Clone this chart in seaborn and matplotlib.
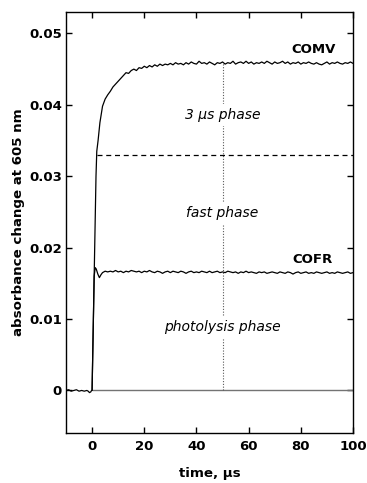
import matplotlib
matplotlib.use("Agg")
import matplotlib.pyplot as plt
import seaborn as sns
import pandas as pd

sns.set_theme(style="ticks")
plt.rcParams['font.family'] = ['DejaVu Sans']
plt.rcParams['text.color'] = 'black'
plt.rcParams['axes.labelcolor'] = 'black'

# ---- data ----
baseline_t = [-10, -9, -8, -7, -6, -5, -4, -3, -2, -1.5, -1, -0.5, -0.2]
baseline_y = [0.0000, 0.0001, -0.0001, 0.0000, 0.0001, -0.0001, 0.0000, -0.0001,
              0.0000, -0.0001, -0.0003, -0.0002, 0.0000]

comv_t = [0.0, 0.5, 1.0, 1.5, 1.8, 2.3, 3.0, 4.0, 5.0, 6.0, 7.0, 8.0, 9.0, 10, 11, 12,
          13, 14, 15, 16, 17, 18, 19] + list(range(20, 101))
comv_y = [0.0000, 0.0100, 0.0200, 0.0300, 0.0335, 0.0350, 0.0375, 0.0398, 0.0408,
          0.0414, 0.0419, 0.0425, 0.0429, 0.0433, 0.0437, 0.0441, 0.0445, 0.0444,
          0.0448, 0.0450, 0.0448, 0.0452, 0.0451,
          0.0454, 0.0452, 0.0455, 0.0453, 0.0456, 0.0454, 0.0457, 0.0455, 0.0457, 0.0456,
          0.0458, 0.0456, 0.0459, 0.0457, 0.0458, 0.0456, 0.0459, 0.0457, 0.0460, 0.0458,
          0.0457, 0.0461, 0.0458, 0.0459, 0.0457, 0.0460, 0.0458, 0.0456, 0.0459, 0.0458,
          0.0460, 0.0457, 0.0459, 0.0458, 0.0461, 0.0457, 0.0459, 0.0460, 0.0458, 0.0461,
          0.0458, 0.0460, 0.0457, 0.0459, 0.0458, 0.0460, 0.0458, 0.0461, 0.0459, 0.0457,
          0.0460, 0.0458, 0.0459, 0.0461, 0.0458, 0.0460, 0.0457, 0.0459, 0.0458, 0.0460,
          0.0457, 0.0459, 0.0458, 0.0460, 0.0458, 0.0457, 0.0459, 0.0457, 0.0456, 0.0458,
          0.0460, 0.0457, 0.0459, 0.0458, 0.0460, 0.0458, 0.0457, 0.0459, 0.0458, 0.0460,
          0.0458]

cofr_t = [0.0, 0.4, 0.8, 1.2, 1.6, 2.2, 2.8, 3.4] + list(range(4, 101))
cofr_y = [0.0000, 0.0080, 0.0160, 0.0172, 0.0170, 0.0163, 0.0158, 0.0162,
          0.0165, 0.0167, 0.0166, 0.0167, 0.0166, 0.0168, 0.0166, 0.0167, 0.0165, 0.0167,
          0.0166, 0.0168, 0.0167, 0.0166, 0.0167, 0.0165, 0.0167, 0.0166, 0.0168, 0.0166,
          0.0165, 0.0167, 0.0166, 0.0164, 0.0166, 0.0167, 0.0165, 0.0167, 0.0166, 0.0165,
          0.0167, 0.0166, 0.0164, 0.0166, 0.0167, 0.0165, 0.0166, 0.0165, 0.0167, 0.0166,
          0.0165, 0.0167, 0.0165, 0.0166, 0.0167, 0.0165, 0.0166, 0.0165, 0.0167, 0.0166,
          0.0165, 0.0166, 0.0164, 0.0166, 0.0165, 0.0167, 0.0165, 0.0166, 0.0165, 0.0164,
          0.0166, 0.0165, 0.0166, 0.0164, 0.0165, 0.0166, 0.0165, 0.0164, 0.0166, 0.0165,
          0.0164, 0.0166, 0.0165, 0.0163, 0.0165, 0.0166, 0.0164, 0.0165, 0.0166, 0.0164,
          0.0165, 0.0164, 0.0166, 0.0165, 0.0164, 0.0165, 0.0166, 0.0164, 0.0165, 0.0164,
          0.0166, 0.0165, 0.0164, 0.0165, 0.0166, 0.0164, 0.0165]

fast_level = 0.033
fast_t = [1.7, 100]
divider_t = 50
divider_y = [0.0, 0.0458]

x_ticks = [0, 20, 40, 60, 80, 100]
y_ticks = [0, 0.01, 0.02, 0.03, 0.04, 0.05]
y_ticklabels = ['0', '0.01', '0.02', '0.03', '0.04', '0.05']

phase_labels = ['3 \u03bcs phase', 'fast phase', 'photolysis phase']
phase_y = [0.0386, 0.0248, 0.0089]
trace_labels = ['COMV', 'COFR']
trace_label_x = [85, 84.5]
trace_label_y = [0.0477, 0.0183]

# ---- figure ----
fig = plt.figure(figsize=(3.67, 4.83), dpi=100)
ax = fig.add_axes([0.1798, 0.1029, 0.9619 - 0.1798, 0.9752 - 0.1029])

# zero line and guides
ax.hlines(0, 0, 100, color='0.45', lw=1.0, zorder=1)
ax.plot(fast_t, [fast_level, fast_level], color='black', lw=0.9,
        dashes=(4, 3), zorder=2)
ax.plot([divider_t, divider_t], divider_y, color='0.35', lw=0.8,
        linestyle=(0, (1, 1.5)), zorder=1)

base = pd.DataFrame({'t': baseline_t, 'y': baseline_y})
comv = pd.DataFrame({'t': comv_t, 'y': comv_y})
cofr = pd.DataFrame({'t': cofr_t, 'y': cofr_y})
for df in (base, comv, cofr):
    sns.lineplot(data=df, x='t', y='y', ax=ax, color='black', lw=0.9,
                 estimator=None, sort=False, zorder=3)

for lab, yy in zip(phase_labels, phase_y):
    ax.text(divider_t, yy, lab, ha='center', va='center', style='italic',
            fontsize=10, color='black', zorder=4,
            bbox=dict(facecolor='white', edgecolor='none', pad=3))
for lab, xx, yy in zip(trace_labels, trace_label_x, trace_label_y):
    ax.text(xx, yy, lab, ha='center', va='center', fontweight='bold',
            fontsize=9.5, color='black', zorder=4)

ax.set_xlim(-10, 100)
ax.set_ylim(-0.006, 0.053)
ax.set_xticks(x_ticks)
ax.set_xticklabels([str(v) for v in x_ticks])
ax.set_yticks(y_ticks)
ax.set_yticklabels(y_ticklabels)
ax.tick_params(direction='in', length=4, width=1, top=True, right=True,
               labelsize=9.5, colors='black')
ax.tick_params(axis='x', pad=5)
ax.tick_params(axis='y', pad=3)
for lab in ax.get_xticklabels() + ax.get_yticklabels():
    lab.set_fontweight('bold')
for s in ax.spines.values():
    s.set_linewidth(1.0)
    s.set_color('black')

ax.set_xlabel('time, \u03bcs', fontweight='bold', fontsize=9.6, labelpad=10)
ax.set_ylabel('absorbance change at 605 nm', fontweight='bold', fontsize=9.6,
              labelpad=3)

fig.savefig('out.png', dpi=100, facecolor='white')
